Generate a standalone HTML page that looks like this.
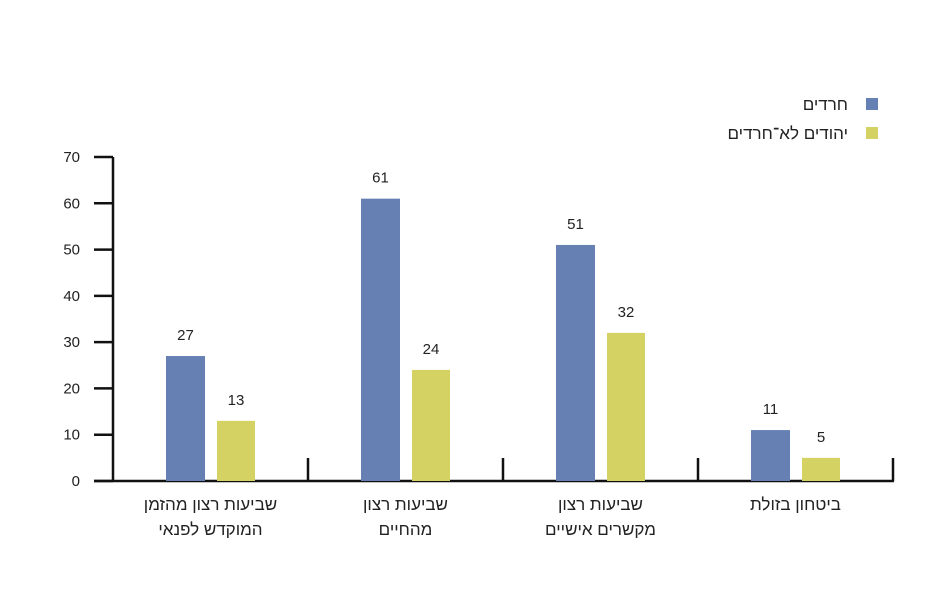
<!DOCTYPE html>
<html><head><meta charset="utf-8"><style>
body{margin:0;background:#fff}
svg text{font-family:"Liberation Sans","Noto Sans CJK SC",sans-serif;fill:#222}
</style></head><body>
<svg id="c" width="947" height="595" xmlns="http://www.w3.org/2000/svg"></svg>
<script>
const categories=[["שביעות רצון מהזמן","המוקדש לפנאי"],["שביעות רצון","מהחיים"],["שביעות רצון","מקשרים אישיים"],["ביטחון בזולת"]];
const haredi=[27,61,51,11];
const nonHaredi=[13,24,32,5];
const yTicks=[0,10,20,30,40,50,60,70];
const seriesNames=["חרדים","יהודים לא־חרדים"];
const colors=["#6680B3","#D4D263"];
const svg=document.getElementById('c');
const NS="http://www.w3.org/2000/svg";
const x0=113,gw=195,yb=481,yt=157,ymax=70;
const y=v=>yb-(v/ymax)*(yb-yt);
function mk(t,a,txt){const e=document.createElementNS(NS,t);for(const k in a)e.setAttribute(k,a[k]);if(txt!==undefined)e.textContent=txt;svg.appendChild(e);return e;}
let e=mk('line',{x1:x0,y1:yt,x2:x0,y2:yb,stroke:'#111','stroke-width':2.5});

e=mk('line',{x1:94,y1:yb,x2:x0+gw*4+1,y2:yb,stroke:'#111','stroke-width':2.5});

yTicks.forEach(t=>{
 e=mk('line',{x1:94,y1:y(t),x2:x0,y2:y(t),stroke:'#111','stroke-width':2.5});
 
 e=mk('text',{x:80,y:y(t)+5,'text-anchor':'end','font-size':15},t);
 
});
for(let i=1;i<=4;i++){
 e=mk('line',{x1:x0+gw*i,y1:458,x2:x0+gw*i,y2:yb,stroke:'#111','stroke-width':2.5});
 
}
categories.forEach((c,i)=>{
 const gx=x0+gw*i;
 [[haredi[i],53,39,0],[nonHaredi[i],104,38,1]].forEach(([v,off,w,s])=>{
  e=mk('rect',{x:gx+off,y:y(v),width:w,height:yb-y(v),fill:colors[s]});
  
  e=mk('text',{x:gx+off+w/2,y:y(v)-16,'text-anchor':'middle','font-size':15},v);
  
 });
 c.forEach((l,j)=>{
  e=mk('text',{x:gx+gw/2,y:510+j*25,'text-anchor':'middle','font-size':17,direction:'rtl'},l);
  
 });
});
seriesNames.forEach((n,i)=>{
 e=mk('rect',{x:866,y:98+i*29,width:12,height:12,fill:colors[i]});
 
 e=mk('text',{x:848,y:110+i*29,'text-anchor':'start','font-size':17,direction:'rtl'},n);
 
});
</script>
</body></html>
